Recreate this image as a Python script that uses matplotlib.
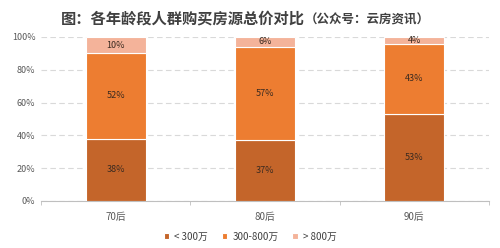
import matplotlib.pyplot as plt
import numpy as np

plt.rcParams['font.family'] = ['Noto Sans CJK SC', 'DejaVu Sans']

labels = ['70后', '80后', '90后']
low = [38, 37, 53]
mid = [52, 57, 43]
high = [10, 6, 4]
series_names = ['< 300万', '300-800万', '> 800万']
colors = ['#C4652A', '#ED7D31', '#F4B39A']

x = np.arange(len(labels))
width = 0.4

fig = plt.figure(figsize=(5, 2.48), dpi=100)
ax = fig.add_axes([0.082, 0.19, 0.896, 0.661])

bottom = np.zeros(len(labels))
for vals, name, c in zip([low, mid, high], series_names, colors):
    ax.bar(x, vals, width, bottom=bottom, label=name, color=c,
           edgecolor='white', linewidth=0.8, zorder=3)
    for xi, b, v in zip(x, bottom, vals):
        ax.text(xi, b + v / 2, f'{v}%', ha='center', va='center',
                fontsize=6.5, color='#3a2a20', zorder=4)
    bottom += np.array(vals)

ax.set_xlim(-0.5, 2.5)
ax.set_ylim(0, 100)
ax.set_yticks(range(0, 101, 20))
ax.set_yticklabels([f'{v}%' for v in range(0, 101, 20)], fontsize=6.5, color='#595959')
ax.set_xticks(x, labels, fontsize=7, color='#595959')
ax.set_xticks([-0.5, 0.5, 1.5, 2.5], minor=True)
ax.tick_params(axis='x', which='major', length=0, pad=8)
ax.tick_params(axis='x', which='minor', length=3, color='#bfbfbf')
ax.tick_params(axis='y', length=0, pad=4)
ax.grid(axis='y', color='#d9d9d9', linestyle=(0, (5, 3)), linewidth=0.8, zorder=0)
for s in ['top', 'right', 'left']:
    ax.spines[s].set_visible(False)
ax.spines['bottom'].set_color('#bfbfbf')

fig.text(0.61, 0.905, '图：各年龄段人群购买房源总价对比', ha='right', va='baseline',
         fontsize=11, fontweight='bold', color='#404040')
fig.text(0.61, 0.905, '（公众号：云房资讯）', ha='left', va='baseline',
         fontsize=9, fontweight='bold', color='#404040')

fig.legend(loc='center', bbox_to_anchor=(0.5, 0.045),
           ncol=3, frameon=False, fontsize=7, handlelength=0.6, handleheight=0.6,
           columnspacing=1.4, handletextpad=0.5, labelcolor='#404040')

fig.savefig('out.png', dpi=100)
